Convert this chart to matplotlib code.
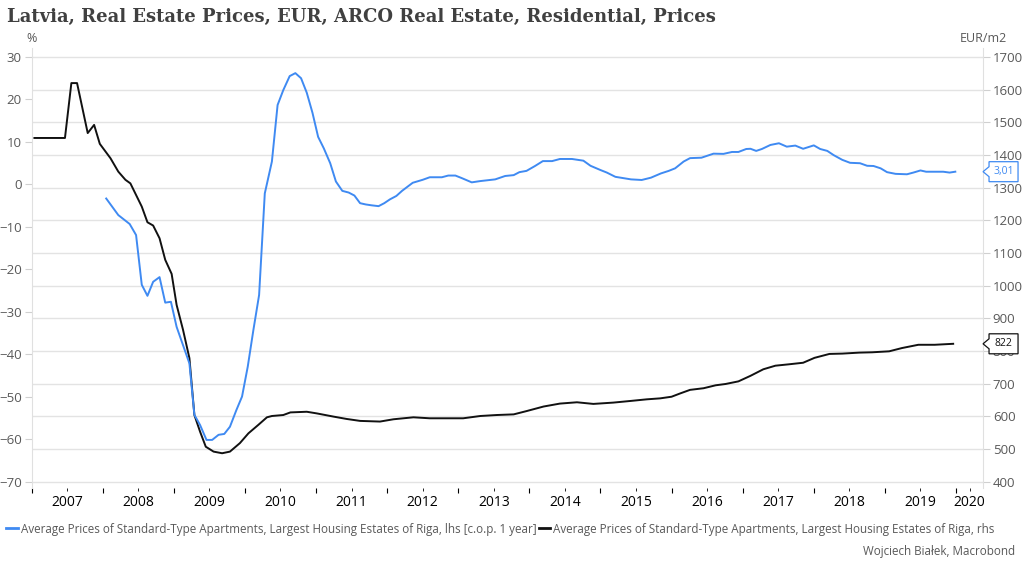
import matplotlib
matplotlib.use("Agg")
import matplotlib.pyplot as plt
import matplotlib.transforms as mtransforms
from matplotlib.lines import Line2D
from matplotlib.patches import Polygon

# --- data (decimal years) ---
years = list(range(2007, 2021))

blue_x = [2008.05, 2008.22, 2008.38, 2008.47, 2008.55, 2008.63, 2008.71, 2008.80, 2008.88, 2008.96,
          2009.04, 2009.22, 2009.29, 2009.37, 2009.46, 2009.54, 2009.63, 2009.71, 2009.79, 2009.88,
          2009.96, 2010.04, 2010.12, 2010.20, 2010.28, 2010.38, 2010.46, 2010.54, 2010.63, 2010.71,
          2010.79, 2010.87, 2010.95, 2011.03, 2011.11, 2011.20, 2011.28, 2011.37, 2011.46, 2011.54,
          2011.62, 2011.70, 2011.78, 2011.88, 2011.96, 2012.04, 2012.13, 2012.21, 2012.36, 2012.50,
          2012.60, 2012.77, 2012.86, 2012.96, 2013.05, 2013.19, 2013.31, 2013.52, 2013.66, 2013.78,
          2013.86, 2013.96, 2014.08, 2014.19, 2014.32, 2014.43, 2014.60, 2014.76, 2014.86, 2015.00,
          2015.09, 2015.21, 2015.32, 2015.43, 2015.58, 2015.71, 2015.85, 2015.96, 2016.05, 2016.17,
          2016.26, 2016.42, 2016.59, 2016.73, 2016.85, 2016.94, 2017.05, 2017.11, 2017.19, 2017.27,
          2017.39, 2017.51, 2017.62, 2017.74, 2017.85, 2018.00, 2018.09, 2018.19, 2018.28, 2018.40,
          2018.51, 2018.65, 2018.75, 2018.84, 2018.94, 2019.03, 2019.15, 2019.31, 2019.40, 2019.50,
          2019.58, 2019.82, 2019.91, 2019.99]
blue_y = [-3.3, -7.2, -9.3, -11.9, -23.6, -26.2, -22.9, -21.8, -27.8, -27.6,
          -33.5, -42.1, -54.2, -56.6, -60.1, -60.1, -58.9, -58.7, -57.0, -53.1,
          -49.9, -42.9, -34.2, -26.0, -2.1, 5.4, 18.7, 22.2, 25.5, 26.2,
          25.0, 21.6, 16.9, 11.2, 8.5, 5.0, 0.7, -1.5, -1.9, -2.6,
          -4.4, -4.7, -4.9, -5.1, -4.4, -3.5, -2.7, -1.5, 0.4, 1.1,
          1.7, 1.7, 2.1, 2.1, 1.5, 0.5, 0.8, 1.2, 2.0, 2.2,
          2.9, 3.2, 4.35, 5.5, 5.5, 6.0, 6.0, 5.6, 4.4, 3.4,
          2.8, 1.8, 1.5, 1.2, 1.06, 1.6, 2.6, 3.2, 3.8, 5.4,
          6.2, 6.3, 7.25, 7.2, 7.65, 7.65, 8.35, 8.4, 7.9, 8.35,
          9.3, 9.7, 8.9, 9.15, 8.4, 9.2, 8.35, 7.9, 6.9, 5.8,
          5.1, 5.0, 4.4, 4.35, 3.8, 2.9, 2.5, 2.4, 2.8, 3.3,
          3.0, 3.0, 2.8, 3.01]

black_x = [2007.04, 2007.47, 2007.56, 2007.64, 2007.79, 2007.88, 2007.96, 2008.11, 2008.22, 2008.32,
           2008.39, 2008.55, 2008.63, 2008.71, 2008.80, 2008.88, 2008.97, 2009.04, 2009.13, 2009.22,
           2009.29, 2009.37, 2009.45, 2009.56, 2009.68, 2009.79, 2009.93, 2010.05, 2010.19, 2010.31,
           2010.38, 2010.54, 2010.64, 2010.87, 2011.01, 2011.25, 2011.43, 2011.62, 2011.90, 2012.09,
           2012.37, 2012.60, 2012.84, 2013.07, 2013.31, 2013.54, 2013.78, 2013.96, 2014.20, 2014.43,
           2014.67, 2014.90, 2015.18, 2015.42, 2015.65, 2015.84, 2016.00, 2016.12, 2016.26, 2016.45,
           2016.62, 2016.76, 2016.94, 2017.11, 2017.29, 2017.46, 2017.64, 2017.85, 2018.01, 2018.22,
           2018.40, 2018.64, 2018.82, 2019.06, 2019.24, 2019.47, 2019.70, 2019.96]
black_y = [1452, 1452, 1620, 1620, 1467, 1492, 1434, 1390, 1349, 1324,
           1313, 1242, 1194, 1184, 1145, 1079, 1036, 941, 865, 778,
           604, 553, 507, 492, 487, 492, 518, 548, 574, 597,
           601, 604, 612, 614, 609, 599, 592, 586, 584, 591,
           597, 594, 594, 594, 601, 604, 606, 616, 630, 639,
           643, 638, 642, 647, 652, 655, 660, 670, 681, 686,
           695, 699, 707, 724, 744, 755, 759, 764, 779, 791,
           792, 795, 796, 799, 809, 819, 819, 822]

blue_last = "3,01"
black_last = "822"

lhs_ticks = list(range(-70, 31, 10))
rhs_ticks = list(range(400, 1701, 100))

title = "Latvia, Real Estate Prices, EUR, ARCO Real Estate, Residential, Prices"
blue_label = "Average Prices of Standard-Type Apartments, Largest Housing Estates of Riga, lhs [c.o.p. 1 year]"
black_label = "Average Prices of Standard-Type Apartments, Largest Housing Estates of Riga, rhs"
source = "Wojciech Białek, Macrobond"

BLUE = "#3f8af2"
BLACK = "#111111"
GRID = "#e3e3e3"
TXT = "#595959"

plt.rcParams["font.family"] = ["Open Sans", "DejaVu Sans"]

fig = plt.figure(figsize=(10.24, 5.69), dpi=100)
ax2 = fig.add_axes([0.0308, 0.1424, 0.9292, 0.7733])
ax = ax2.twinx()
# left (%) axis on top so the blue line sits above grid and black line
ax.yaxis.set_label_position("left")
ax.yaxis.tick_left()
ax2.yaxis.tick_right()
ax.set_zorder(ax2.get_zorder() + 1)
ax.patch.set_visible(False)

ax.set_xlim(2007.0, 2020.38)
ax.set_ylim(-71.41, 32.12)
ax2.set_ylim(380.7, 1727.5)

ax2.plot(black_x, black_y, color=BLACK, lw=1.4, solid_joinstyle="round")
ax.plot(blue_x, blue_y, color=BLUE, lw=1.4, solid_joinstyle="round")

# grid follows the right-hand axis
ax2.set_yticks(rhs_ticks)
ax2.grid(axis="y", color=GRID, lw=1.0)
ax2.tick_params(axis="y", right=True, left=False, labelright=True, labelleft=False,
                length=5, color="#d0d0d0", labelsize=9.5, labelcolor=TXT, pad=2)

ax.set_yticks(lhs_ticks)
ax.tick_params(axis="y", left=True, right=False, labelleft=True, labelright=False,
               length=5, color="#d0d0d0", labelsize=9.5, labelcolor=TXT, pad=2)

# year ticks at year boundaries, labels centred in between
x0, x1 = ax.get_xlim()
ax.set_xticks(years)
ax.set_xticklabels([])
mids = [y + 0.5 for y in years[:-1]] + [(years[-1] + x1) / 2]
ax.set_xticks(mids, minor=True)
ax.set_xticklabels([str(y) for y in years], minor=True)
ax.tick_params(axis="x", which="major", length=6, color="#c8c8c8", direction="out")
ax.tick_params(axis="x", which="minor", length=0, labelsize=9.5, labelcolor=TXT, pad=10)

for a in (ax, ax2):
    for s in ("top", "bottom"):
        a.spines[s].set_visible(False)
    a.spines["left"].set_color("#e0e0e0")
    a.spines["right"].set_color("#e0e0e0")
ax.spines["right"].set_visible(False)
ax2.spines["left"].set_visible(False)

ax.text(0.0, 1.021, "%", transform=ax.transAxes, ha="center", va="center",
        fontsize=9, color=TXT)
ax.text(1.0, 1.021, "EUR/m2", transform=ax.transAxes, ha="center", va="center",
        fontsize=9, color=TXT)

# value tags on the right spine
def value_tag(axis, yval, label, color):
    blend = mtransforms.blended_transform_factory(axis.transAxes, axis.transData)
    tr = mtransforms.Affine2D().scale(fig.dpi / 100) + \
        mtransforms.ScaledTranslation(1.0, yval, blend)
    pts = [(0, 0), (6, 5), (6, 10), (35, 10), (35, -10), (6, -10), (6, -5)]
    poly = Polygon(pts, closed=True, transform=tr, facecolor="white",
                   edgecolor=color, lw=0.9, clip_on=False, zorder=10)
    axis.add_artist(poly)
    axis.annotate(label, xy=(1.0, yval), xycoords=blend, xytext=(20.5 * 0.72, 0),
                  textcoords="offset points", ha="center", va="center",
                  fontsize=7.5, color=color, zorder=11, annotation_clip=False)

value_tag(ax, float(blue_last.replace(",", ".")), blue_last, BLUE)
value_tag(ax2, float(black_last), black_last, BLACK)

fig.text(0.007, 0.97, title, ha="left", va="center", fontsize=13,
         fontweight="bold", family="DejaVu Serif", color="#404040")

handles = [Line2D([], [], color=BLUE, lw=2), Line2D([], [], color=BLACK, lw=2)]
fig.legend(handles, [blue_label, black_label], loc="center left",
           bbox_to_anchor=(0.006, 1 - 529 / 569), ncol=2, frameon=False,
           fontsize=8.4, handlelength=1.0, handletextpad=0.25, columnspacing=0.2,
           borderpad=0, borderaxespad=0, labelcolor=TXT)

fig.text(0.991, 1 - 551 / 569, source, ha="right", va="center", fontsize=8.4, color=TXT)

fig.savefig("out.png", dpi=100)
